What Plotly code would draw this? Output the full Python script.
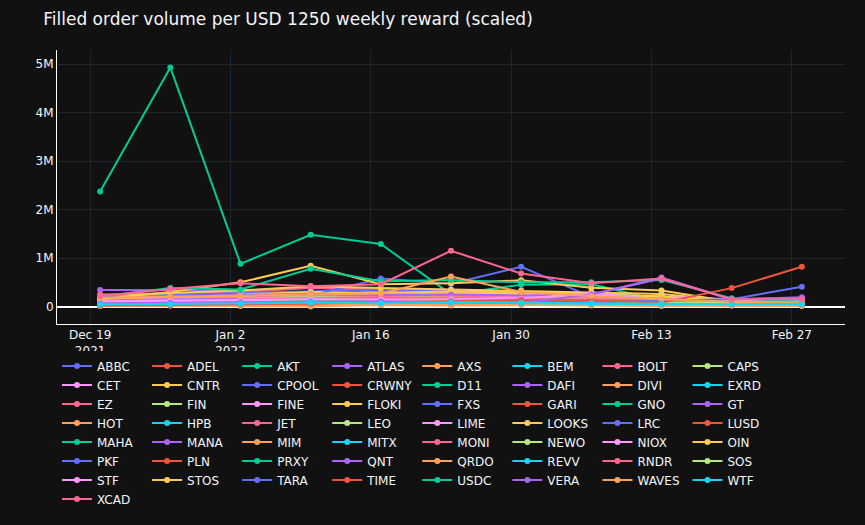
import plotly.graph_objects as go

DATES = ["2021-12-20", "2021-12-27", "2022-01-03", "2022-01-10", "2022-01-17", "2022-01-24",
         "2022-01-31", "2022-02-07", "2022-02-14", "2022-02-21", "2022-02-28"]

# filled volume per 1250 USD weekly reward, one list per market
ABBC = [60e3, 90e3, 110e3, 130e3, 150e3, 120e3, 100e3, 80e3, 70e3, 60e3, 50e3]
ADEL = [30e3, 40e3, 20e3, 30e3, 50e3, 40e3, 60e3, 50e3, 30e3, 20e3, 30e3]
AKT = [2370e3, 4930e3, 880e3, 1480e3, 1290e3, 250e3, 450e3, 460e3, 120e3, 100e3, 80e3]
ATLAS = [340e3, 330e3, 330e3, 400e3, 300e3, 310e3, 260e3, 200e3, 150e3, 110e3, 120e3]
AXS = [150e3, 200e3, 230e3, 260e3, 220e3, 270e3, 250e3, 210e3, 120e3, 80e3, 90e3]
BEM = [40e3, 50e3, 60e3, 70e3, 60e3, 80e3, 70e3, 60e3, 50e3, 40e3, 50e3]
BOLT = [250e3, 270e3, 300e3, 380e3, 350e3, 330e3, 300e3, 200e3, 180e3, 120e3, 130e3]
CAPS = [80e3, 100e3, 120e3, 180e3, 150e3, 160e3, 140e3, 110e3, 90e3, 60e3, 70e3]
CET = [120e3, 130e3, 110e3, 120e3, 140e3, 150e3, 130e3, 160e3, 120e3, 100e3, 110e3]
CNTR = [100e3, 150e3, 180e3, 250e3, 200e3, 230e3, 240e3, 260e3, 200e3, 80e3, 90e3]
CPOOL = [200e3, 250e3, 280e3, 320e3, 350e3, 330e3, 310e3, 150e3, 100e3, 90e3, 70e3]
CRWNY = [20e3, 30e3, 50e3, 40e3, 60e3, 50e3, 70e3, 80e3, 40e3, 30e3, 20e3]
D11 = [50e3, 80e3, 100e3, 120e3, 90e3, 100e3, 110e3, 100e3, 60e3, 50e3, 40e3]
DAFI = [180e3, 190e3, 170e3, 150e3, 200e3, 210e3, 180e3, 150e3, 130e3, 120e3, 140e3]
DIVI = [70e3, 60e3, 80e3, 90e3, 100e3, 120e3, 90e3, 70e3, 60e3, 50e3, 40e3]
EXRD = [30e3, 40e3, 50e3, 60e3, 70e3, 50e3, 40e3, 60e3, 50e3, 40e3, 30e3]
EZ = [220e3, 210e3, 200e3, 250e3, 230e3, 220e3, 200e3, 180e3, 150e3, 140e3, 150e3]
FIN = [60e3, 80e3, 90e3, 110e3, 120e3, 100e3, 90e3, 80e3, 70e3, 60e3, 50e3]
FINE = [90e3, 100e3, 80e3, 70e3, 90e3, 100e3, 120e3, 130e3, 110e3, 90e3, 100e3]
FLOKI = [130e3, 180e3, 250e3, 300e3, 280e3, 310e3, 290e3, 270e3, 180e3, 110e3, 100e3]
FXS = [90e3, 120e3, 150e3, 230e3, 580e3, 470e3, 820e3, 200e3, 120e3, 100e3, 90e3]
GARI = [40e3, 50e3, 60e3, 80e3, 110e3, 130e3, 150e3, 110e3, 60e3, 50e3, 40e3]
GNO = [30e3, 40e3, 50e3, 40e3, 60e3, 70e3, 60e3, 50e3, 40e3, 30e3, 40e3]
GT = [100e3, 110e3, 130e3, 120e3, 110e3, 140e3, 120e3, 110e3, 100e3, 80e3, 90e3]
HOT = [120e3, 140e3, 160e3, 190e3, 170e3, 200e3, 180e3, 150e3, 120e3, 90e3, 100e3]
HPB = [20e3, 30e3, 40e3, 50e3, 40e3, 50e3, 40e3, 30e3, 20e3, 30e3, 20e3]
JET = [150e3, 160e3, 170e3, 200e3, 210e3, 230e3, 200e3, 180e3, 160e3, 130e3, 140e3]
LEO = [110e3, 130e3, 160e3, 220e3, 190e3, 180e3, 170e3, 150e3, 120e3, 100e3, 90e3]
LIME = [150e3, 170e3, 160e3, 140e3, 150e3, 160e3, 170e3, 210e3, 160e3, 130e3, 150e3]
LOOKS = [200e3, 280e3, 330e3, 420e3, 380e3, 350e3, 330e3, 300e3, 260e3, 120e3, 110e3]
LRC = [50e3, 60e3, 70e3, 100e3, 90e3, 80e3, 70e3, 60e3, 50e3, 40e3, 50e3]
LUSD = [10e3, 20e3, 30e3, 40e3, 30e3, 40e3, 50e3, 40e3, 30e3, 20e3, 20e3]
MAHA = [100e3, 120e3, 140e3, 160e3, 130e3, 150e3, 140e3, 120e3, 100e3, 90e3, 80e3]
MANA = [140e3, 150e3, 160e3, 170e3, 180e3, 160e3, 150e3, 130e3, 140e3, 120e3, 130e3]
MIM = [10e3, 20e3, 10e3, 0, 30e3, 20e3, 30e3, 20e3, 10e3, 20e3, 10e3]
MITX = [60e3, 70e3, 80e3, 90e3, 80e3, 90e3, 80e3, 70e3, 60e3, 50e3, 60e3]
MONI = [180e3, 200e3, 220e3, 240e3, 220e3, 250e3, 230e3, 210e3, 180e3, 150e3, 160e3]
NEWO = [70e3, 90e3, 100e3, 130e3, 110e3, 120e3, 100e3, 90e3, 80e3, 70e3, 60e3]
NIOX = [100e3, 120e3, 140e3, 160e3, 150e3, 170e3, 190e3, 230e3, 200e3, 150e3, 170e3]
OIN = [160e3, 200e3, 220e3, 280e3, 250e3, 270e3, 260e3, 240e3, 210e3, 100e3, 90e3]
PKF = [80e3, 100e3, 120e3, 140e3, 130e3, 140e3, 130e3, 110e3, 100e3, 80e3, 70e3]
PLN = [50e3, 60e3, 70e3, 60e3, 80e3, 100e3, 120e3, 110e3, 80e3, 60e3, 50e3]
PRXY = [60e3, 80e3, 70e3, 90e3, 80e3, 90e3, 100e3, 90e3, 70e3, 60e3, 50e3]
QNT = [200e3, 220e3, 240e3, 260e3, 240e3, 250e3, 230e3, 250e3, 600e3, 150e3, 170e3]
QRDO = [30e3, 40e3, 30e3, 50e3, 40e3, 60e3, 50e3, 40e3, 30e3, 30e3, 40e3]
REVV = [50e3, 60e3, 70e3, 80e3, 70e3, 80e3, 70e3, 60e3, 50e3, 60e3, 50e3]
RNDR = [120e3, 130e3, 140e3, 160e3, 170e3, 180e3, 160e3, 140e3, 130e3, 110e3, 120e3]
SOS = [90e3, 100e3, 120e3, 150e3, 140e3, 130e3, 110e3, 100e3, 90e3, 70e3, 80e3]
STF = [110e3, 120e3, 130e3, 150e3, 140e3, 150e3, 160e3, 280e3, 140e3, 120e3, 130e3]
STOS = [150e3, 300e3, 500e3, 840e3, 460e3, 480e3, 540e3, 390e3, 330e3, 100e3, 100e3]
TARA = [40e3, 50e3, 60e3, 80e3, 90e3, 100e3, 110e3, 90e3, 120e3, 150e3, 410e3]
TIME = [20e3, 30e3, 40e3, 60e3, 90e3, 110e3, 140e3, 130e3, 80e3, 380e3, 820e3]
USDC = [200e3, 380e3, 350e3, 780e3, 520e3, 550e3, 500e3, 500e3, 550e3, 170e3, 100e3]
VERA = [70e3, 80e3, 90e3, 100e3, 110e3, 90e3, 80e3, 250e3, 580e3, 150e3, 190e3]
WAVES = [180e3, 200e3, 220e3, 250e3, 270e3, 620e3, 300e3, 220e3, 150e3, 100e3, 90e3]
WTF = [40e3, 50e3, 60e3, 80e3, 70e3, 90e3, 80e3, 70e3, 60e3, 50e3, 60e3]
XCAD = [220e3, 360e3, 480e3, 420e3, 460e3, 1150e3, 680e3, 480e3, 580e3, 150e3, 150e3]

MARKETS = [
    ("ABBC", ABBC), ("ADEL", ADEL), ("AKT", AKT), ("ATLAS", ATLAS), ("AXS", AXS),
    ("BEM", BEM), ("BOLT", BOLT), ("CAPS", CAPS), ("CET", CET), ("CNTR", CNTR),
    ("CPOOL", CPOOL), ("CRWNY", CRWNY), ("D11", D11), ("DAFI", DAFI), ("DIVI", DIVI),
    ("EXRD", EXRD), ("EZ", EZ), ("FIN", FIN), ("FINE", FINE), ("FLOKI", FLOKI),
    ("FXS", FXS), ("GARI", GARI), ("GNO", GNO), ("GT", GT), ("HOT", HOT),
    ("HPB", HPB), ("JET", JET), ("LEO", LEO), ("LIME", LIME), ("LOOKS", LOOKS),
    ("LRC", LRC), ("LUSD", LUSD), ("MAHA", MAHA), ("MANA", MANA), ("MIM", MIM),
    ("MITX", MITX), ("MONI", MONI), ("NEWO", NEWO), ("NIOX", NIOX), ("OIN", OIN),
    ("PKF", PKF), ("PLN", PLN), ("PRXY", PRXY), ("QNT", QNT), ("QRDO", QRDO),
    ("REVV", REVV), ("RNDR", RNDR), ("SOS", SOS), ("STF", STF), ("STOS", STOS),
    ("TARA", TARA), ("TIME", TIME), ("USDC", USDC), ("VERA", VERA), ("WAVES", WAVES),
    ("WTF", WTF), ("XCAD", XCAD),
]

fig = go.Figure()
for name, vals in MARKETS:
    fig.add_trace(go.Scatter(x=DATES, y=vals, name=name, mode="lines+markers"))

fig.update_layout(
    template="plotly_dark",
    width=865, height=525,
    font=dict(family="Verdana, DejaVu Sans, sans-serif"),
    title=dict(text="Filled order volume per USD 1250 weekly reward (scaled)",
               y=0.963, yanchor="middle"),
    margin=dict(l=57, r=20, t=50, b=201),
    legend=dict(orientation="h", x=0, y=-0.1, yanchor="top"),
    showlegend=True,
)
fig.update_xaxes(showline=True, linecolor="white", gridcolor="#1f252d")
fig.update_yaxes(showline=True, linecolor="white", gridcolor="#1f252d",
                 zerolinecolor="white", zerolinewidth=2)

# page body margin would otherwise shift the 865x525 figure
fig.write_html("out.html", config={"displayModeBar": False},
               post_script="document.body.style.margin='0';")
